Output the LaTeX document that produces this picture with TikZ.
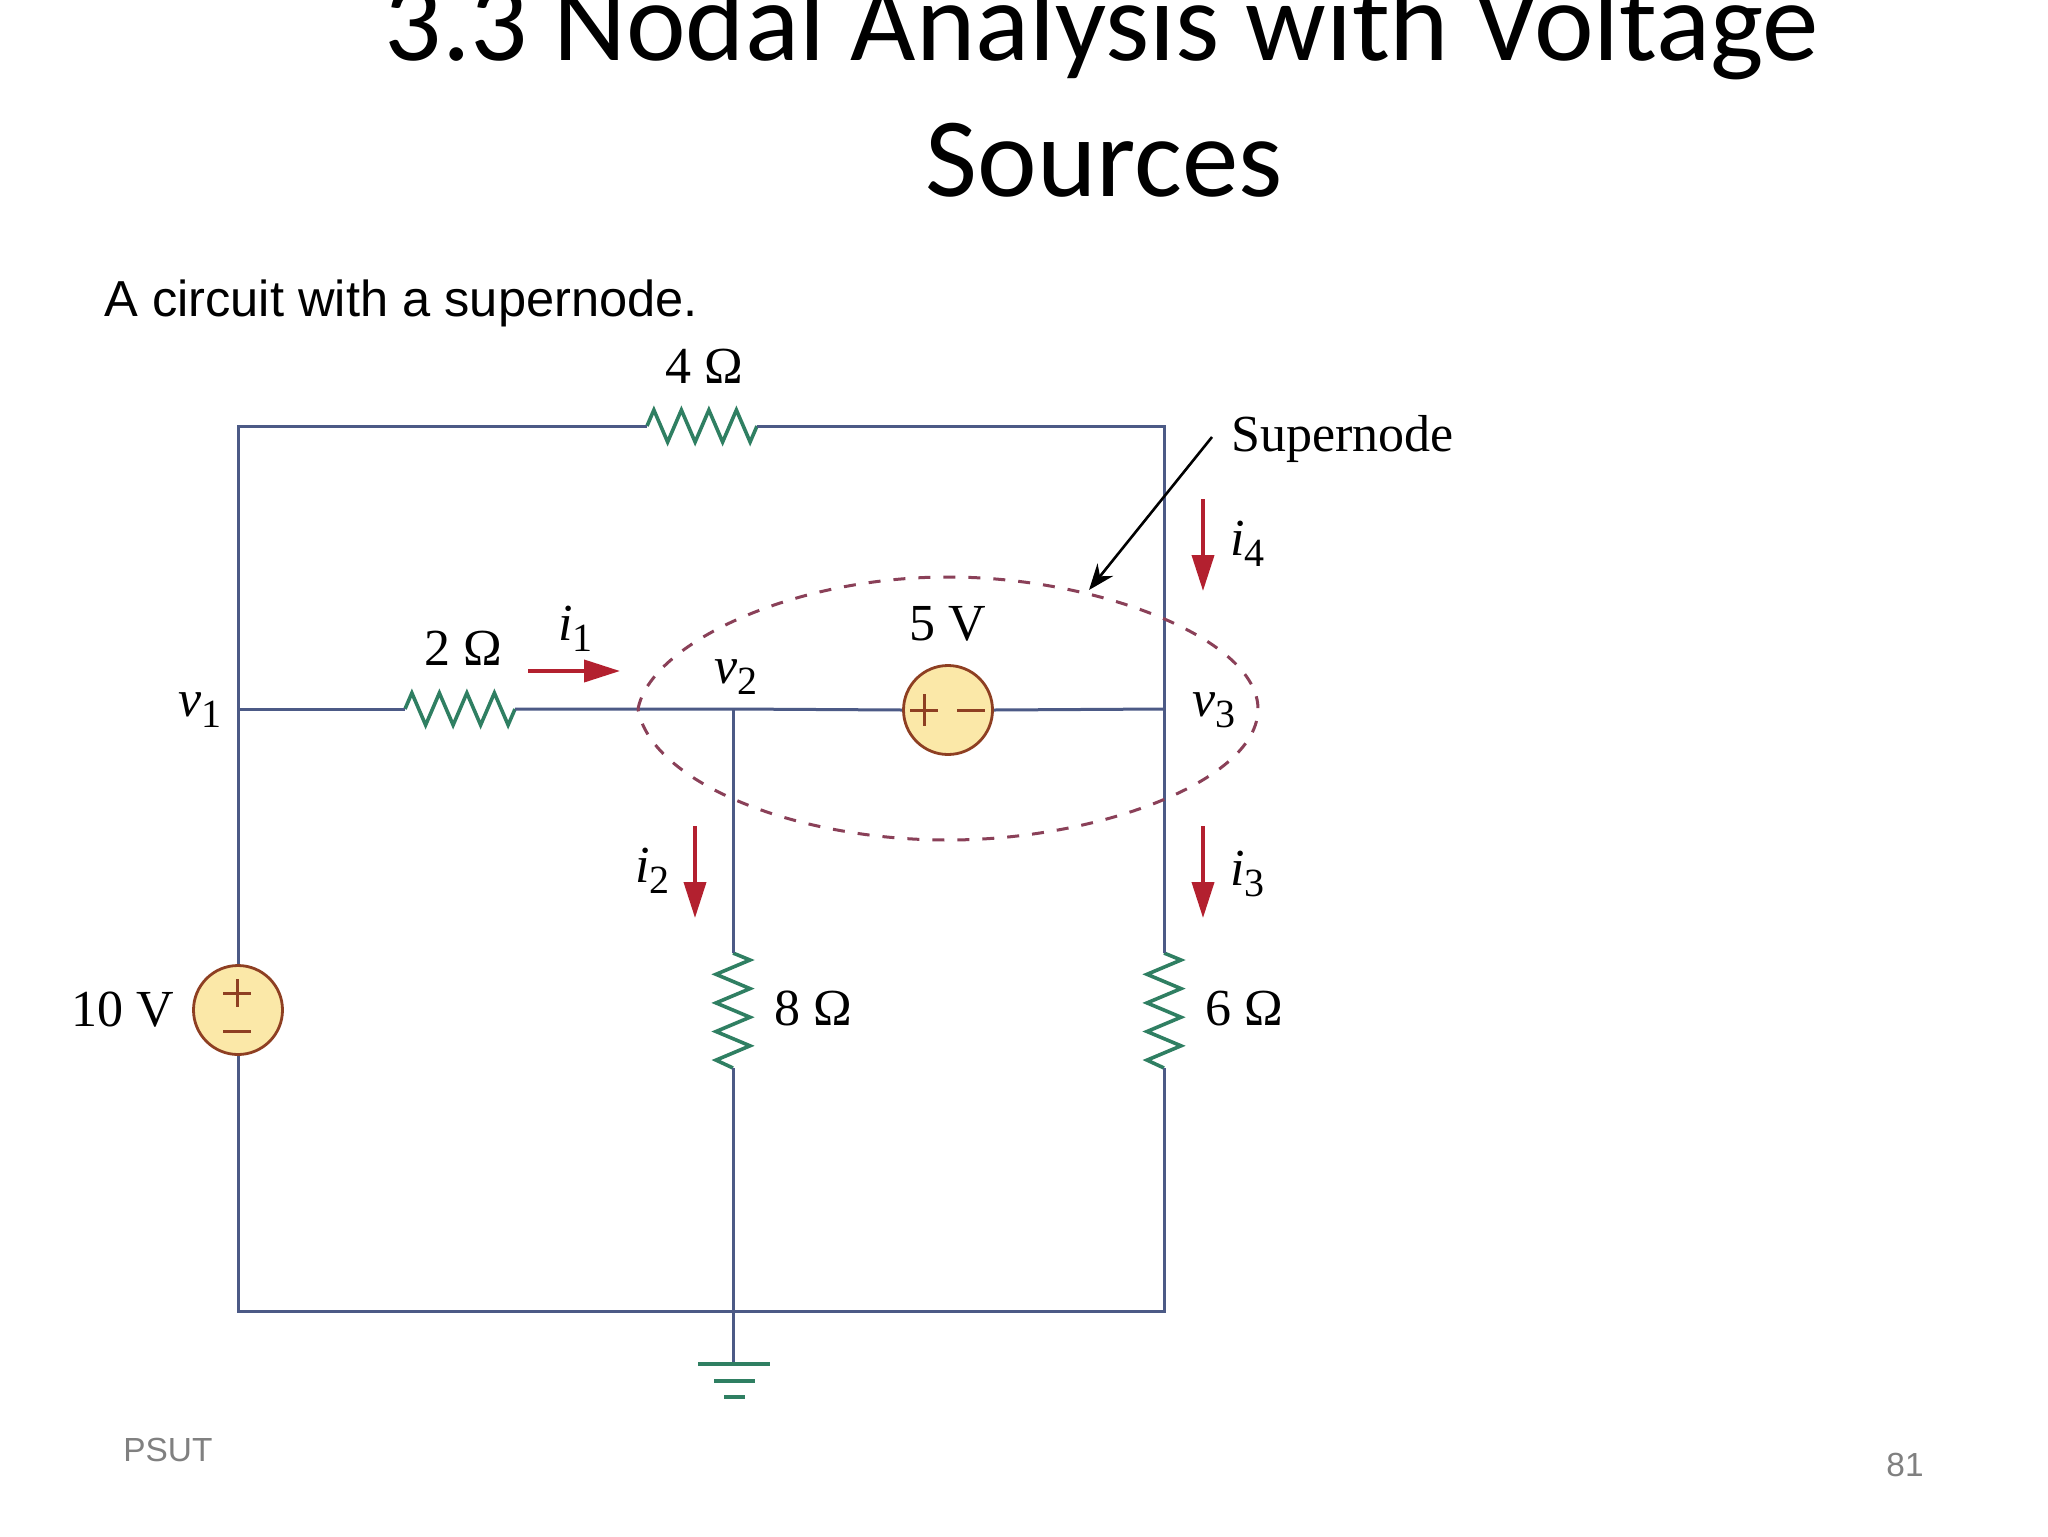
\documentclass[tikz,border=0pt]{standalone}
\usepackage{fontspec}
\setmainfont{Liberation Serif}
\newfontfamily\titlefont{Carlito}
\newfontfamily\bodyfont{Liberation Sans}
\usetikzlibrary{arrows.meta}
\definecolor{wirec}{HTML}{4C5A86}
\definecolor{resc}{HTML}{2F7F62}
\definecolor{srcfill}{HTML}{FBE8A8}
\definecolor{srcline}{HTML}{8E3F22}
\definecolor{curc}{HTML}{B3202F}
\definecolor{dashc}{HTML}{8A4058}
\definecolor{grayc}{HTML}{808080}
\tikzset{
  wire/.style={draw=wirec,line width=1.5pt},
  resistor/.style={draw=resc,line width=1.8pt,line join=miter},
  srcnode/.style={circle,draw=srcline,fill=srcfill,line width=1.4pt,minimum size=44.5pt,inner sep=0pt},
  polarity/.style={draw=srcline,line width=1.5pt},
  current/.style={draw=curc,line width=1.9pt,-{Triangle[length=18pt,width=11pt]}},
  pointer/.style={draw=black,line width=1.3pt,-{Stealth[length=13pt,width=10pt]}},
  supernode/.style={draw=dashc,line width=1.5pt,dash pattern=on 6pt off 6.5pt},
  gnd/.style={draw=resc,line width=1.7pt},
  lab/.style={font=\fontsize{26}{30}\selectfont,inner sep=0pt,anchor=base},
  title/.style={font=\titlefont\fontsize{56.5}{70}\selectfont,inner sep=0pt,anchor=base}
}
\newcommand{\hres}[4]{% name, x west, x east, y
  \coordinate (#1w) at (#2,#4);
  \coordinate (#1e) at (#3,#4);
  \draw[resistor,x={({(#3-#2)/16},0)},y={(0,-0.5pt)},shift={(#2*0.5pt,-#4*0.5pt)}]
    (0,0) -- (1,-16) -- (3,16) -- (5,-16) -- (7,16) -- (9,-16) -- (11,16) -- (13,-16) -- (15,16) -- (16,0);
}
\newcommand{\subsc}[2]{\textit{#1}\raisebox{-5.5pt}{\fontsize{20}{22}\selectfont #2}}
\begin{document}
\begin{tikzpicture}[x=0.5pt,y=-0.5pt]
\useasboundingbox (0,0) rectangle (2048,1536);
\fill[white] (0,0) rectangle (2048,1536);
\begin{scope}
\clip (0,0) rectangle (2048,1536);
\node[title] (t1) at (1102,61) {3.3 Nodal Analysis with Voltage};
\node[title] (t2) at (1104,196) {Sources};
\end{scope}
\node[inner sep=0pt,anchor=base west,font=\bodyfont\fontsize{25.3}{30}\selectfont] (sub) at (104,316) {A circuit with a supernode.};
\node[inner sep=0pt,anchor=base west,font=\bodyfont\fontsize{16.7}{20}\selectfont,text=grayc] (psut) at (123,1461) {PSUT};
\node[inner sep=0pt,anchor=base east,font=\bodyfont\fontsize{16.7}{20}\selectfont,text=grayc] (pg) at (1924,1476) {81};

% corners and junctions
\coordinate (tl) at (238,426);
\coordinate (tr) at (1164,426);
\coordinate (bl) at (238,1311);
\coordinate (br) at (1164,1311);
\coordinate (bm) at (733,1311);
\coordinate (v1) at (238,709);
\coordinate (v2) at (733,709);
\coordinate (v3) at (1164,709);
\coordinate (g1) at (733,1364);

% resistors
\hres{ra}{647}{757}{426}
\hres{rb}{405}{515}{709}
\coordinate (rcn) at (733,953);
\coordinate (rcs) at (733,1068);
\coordinate (rdn) at (1164,953);
\coordinate (rds) at (1164,1068);
\draw[resistor] (rcn) -- ++(17,7) -- ++(-34,14.3) -- ++(34,14.3) -- ++(-34,14.3) -- ++(34,14.3) -- ++(-34,14.3) -- ++(34,14.3) -- ++(-34,14.3) -- (rcs);
\draw[resistor] (rdn) -- ++(17,7) -- ++(-34,14.3) -- ++(34,14.3) -- ++(-34,14.3) -- ++(34,14.3) -- ++(-34,14.3) -- ++(34,14.3) -- ++(-34,14.3) -- (rds);

% sources
\node[srcnode] (s10) at (238,1010) {};
\node[srcnode] (s5) at (948,710) {};

% wires
\draw[wire] (s10.north) -- (tl) -- (raw);
\draw[wire] (rae) -- (tr) -- (rdn);
\draw[wire] (s10.south) -- (bl) -- (br) -- (rds);
\draw[wire] (v1) -- (rbw);
\draw[wire] (rbe) -- (v2) -- (s5.west);
\draw[wire] (s5.east) -- (v3);
\draw[wire] (v2) -- (rcn);
\draw[wire] (rcs) -- (bm) -- (g1);

% polarity marks
\draw[polarity] (223,993) -- (251,993) (237,979) -- (237,1007);
\draw[polarity] (223,1031) -- (251,1031);
\draw[polarity] (910,710) -- (938,710) (924,694) -- (924,726);
\draw[polarity] (957,710) -- (985,710);

% ground
\draw[gnd] (698,1364) -- (770,1364);
\draw[gnd] (714,1381) -- (755,1381);
\draw[gnd] (724,1397) -- (745,1397);

% supernode
\coordinate (sl) at (638,709);
\coordinate (st) at (948,577);
\coordinate (sr) at (1258,709);
\coordinate (sb) at (948,840);
\draw[supernode] (sl) .. controls (650,645) and (790,577) .. (st)
  .. controls (1100,577) and (1258,640) .. (sr)
  .. controls (1258,780) and (1100,840) .. (sb)
  .. controls (790,840) and (650,780) .. (sl) -- cycle;

% pointer
\node[lab,anchor=base west] (sn) at (1231,451) {Supernode};
\coordinate (pa) at (1212,437);
\coordinate (pb) at (1089,590);
\draw[pointer] (pa) -- (pb);

% currents
\coordinate (c1a) at (528,671); \coordinate (c1b) at (620,671);
\coordinate (c2a) at (695,826); \coordinate (c2b) at (695,918);
\coordinate (c3a) at (1203,826); \coordinate (c3b) at (1203,918);
\coordinate (c4a) at (1203,499); \coordinate (c4b) at (1203,591);
\draw[current] (c1a) -- (c1b);
\draw[current] (c2a) -- (c2b);
\draw[current] (c3a) -- (c3b);
\draw[current] (c4a) -- (c4b);

% labels
\node[lab] (l4) at (704,383) {4 Ω};
\node[lab] (l2) at (463,665) {2 Ω};
\node[lab] (l8) at (813,1025) {8 Ω};
\node[lab] (l6) at (1244,1025) {6 Ω};
\node[lab] (l5) at (948,640) {5 V};
\node[lab] (l10) at (123,1026) {10 V};
\node[lab,anchor=base west] (i1) at (558,640) {\subsc{i}{1}};
\node[lab,anchor=base west] (i2) at (635,882) {\subsc{i}{2}};
\node[lab,anchor=base west] (i3) at (1230,885) {\subsc{i}{3}};
\node[lab,anchor=base west] (i4) at (1230,555) {\subsc{i}{4}};
\node[lab,anchor=base west] (n1) at (178,716) {\subsc{v}{1}};
\node[lab,anchor=base west] (n2) at (714,683) {\subsc{v}{2}};
\node[lab,anchor=base west] (n3) at (1192,716) {\subsc{v}{3}};
\end{tikzpicture}
\end{document}
